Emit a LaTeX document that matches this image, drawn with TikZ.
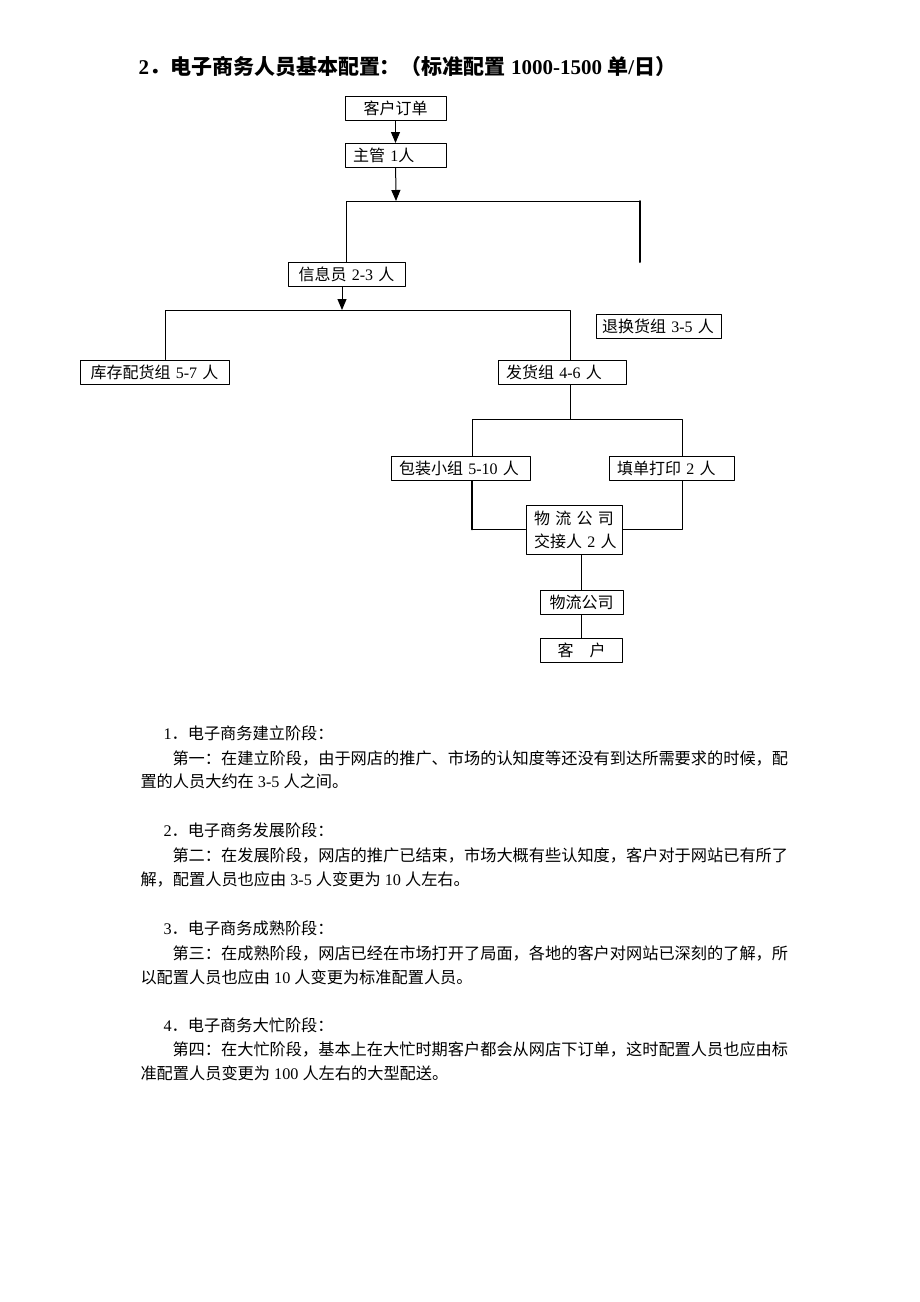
\documentclass[tikz,border=0pt]{standalone}
\usepackage{fontspec}
\setmainfont{Liberation Serif}
\newfontfamily\cjk{Noto Sans CJK SC}
\usetikzlibrary{arrows.meta}
\setlength{\parindent}{0pt}
% Chinese characters in the CJK font, digits in the serif
\XeTeXinterchartokenstate=1
\newXeTeXintercharclass\cjkclass
\newcount\cjkcode
\def\cjkrange#1#2{\cjkcode=#1\relax
  \loop\XeTeXcharclass\cjkcode=\cjkclass\relax
    \advance\cjkcode by 1\relax
  \ifnum\cjkcode<#2\relax\repeat}
\cjkrange{"3000}{"3040}
\cjkrange{"4E00}{"A000}
\cjkrange{"FF00}{"FFF0}
\XeTeXinterchartoks 0 \cjkclass = {\cjk}
\XeTeXinterchartoks 4095 \cjkclass = {\cjk}
\XeTeXinterchartoks \cjkclass 0 = {\rmfamily}
\XeTeXinterchartoks \cjkclass 4095 = {\rmfamily}
\newcommand\boxtextfont{\fontsize{16}{23}\selectfont}
\newcommand\paratextfont{\fontsize{16.2}{24}\selectfont}
\newcommand\headtextfont{\fontsize{21}{25}\selectfont\bfseries}
\tikzset{
  box/.style={draw,line width=1pt,inner xsep=8pt,inner ysep=0pt,minimum height=24pt,font=\boxtextfont},
  txt/.style={anchor=base west,inner sep=0pt,font=\paratextfont}
}

\begin{document}
\begin{tikzpicture}[line cap=round,line join=round,>={Triangle[length=11pt,width=9pt]},x=1pt,y=-1pt,line width=1pt]
  \useasboundingbox (0,0) rectangle (920,1302);
  \node[txt,font=\headtextfont] (title) at (138,74) {2．电子商务人员基本配置：（标准配置 1000-1500 单/日）};
  % chart
  \node[box,text width=85pt,align=center] (order) at (395.5,108) {客户订单};
  \node[box,text width=85pt,align=left] (boss) at (395.5,155.5) {主管~1人};
  \node[box,text width=101pt,align=center] (info) at (346.5,274.5) {信息员~2-3~人};
  \node[box,text width=113pt,inner xsep=6pt,align=left] (ret) at (658.5,326.5) {\mbox{退换货组 3-5 人}};
  \node[box,text width=133pt,align=center] (stock) at (154.5,372) {库存配货组~5-7~人};
  \node[box,text width=112pt,align=left] (ship) at (562,372.5) {发货组~4-6~人};
  \node[box,text width=123pt,align=left] (pack) at (460.5,468.5) {包装小组~5-10~人};
  \node[box,text width=109pt,align=left] (fill) at (671.5,468.5) {填单打印~2~人};
  \node[box,text width=80pt,align=left,minimum height=49pt] (hand) at (574,529.5) {物~流~公~司\\交接人~2~人};
  \node[box,text width=67pt,align=center] (comp) at (581.5,602) {物流公司};
  \node[box,text width=66pt,align=center] (cust) at (581.5,650) {客\quad 户};
  \coordinate (j1) at (396,201);
  \coordinate (r1) at (640,262);
  \coordinate (j2) at (342,310);
  \coordinate (l2) at (165,310);
  \coordinate (r2) at (570,310);
  \coordinate (j3) at (570,419);
  \coordinate (l3) at (472,419);
  \coordinate (r3) at (682,419);
  \draw[->] (order) -- (boss);
  \draw[->] (boss) -- (j1);
  \draw (info.north) |- (j1 -| r1);
  \draw[line width=2pt] (j1 -| r1) -- (r1);
  \draw[->] (info.south -| j2) -- (j2);
  \draw (l2 |- stock.north) -- (l2) -- (r2) -- (r2 |- ship.north);
  \draw (j3 |- ship.south) -- (j3);
  \draw (l3 |- pack.north) -- (l3) -- (r3) -- (r3 |- fill.north);
  \draw[line width=1.8pt] (l3 |- pack.south) -- (l3 |- hand.west);
  \draw (l3 |- hand.west) -- (hand.west);
  \draw (r3 |- fill.south) |- (hand.east);
  \draw (comp.north |- hand.south) -- (comp.north);
  \draw (comp) -- (cust);
  % stages
  \node[txt] (stage1) at (163,739) {1．电子商务建立阶段：};
  \node[txt] (text1a) at (172,764) {第一：在建立阶段，由于网店的推广、市场的认知度等还没有到达所需要求的时候，配};
  \node[txt] (text1b) at (140,787) {置的人员大约在 3-5 人之间。};
  \node[txt] (stage2) at (163,836) {2．电子商务发展阶段：};
  \node[txt] (text2a) at (172,861) {第二：在发展阶段，网店的推广已结束，市场大概有些认知度，客户对于网站已有所了};
  \node[txt] (text2b) at (140,885) {解，配置人员也应由 3-5 人变更为 10 人左右。};
  \node[txt] (stage3) at (163,934) {3．电子商务成熟阶段：};
  \node[txt] (text3a) at (172,959) {第三：在成熟阶段，网店已经在市场打开了局面，各地的客户对网站已深刻的了解，所};
  \node[txt] (text3b) at (140,983) {以配置人员也应由 10 人变更为标准配置人员。};
  \node[txt] (stage4) at (163,1031) {4．电子商务大忙阶段：};
  \node[txt] (text4a) at (172,1055) {第四：在大忙阶段，基本上在大忙时期客户都会从网店下订单，这时配置人员也应由标};
  \node[txt] (text4b) at (140,1079) {准配置人员变更为 100 人左右的大型配送。};
\end{tikzpicture}
\end{document}
